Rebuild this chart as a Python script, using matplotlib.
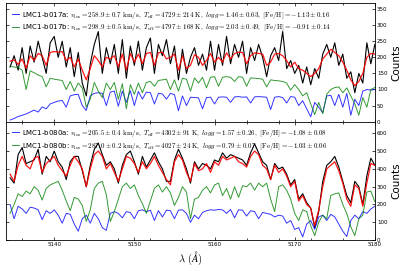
import numpy as np
import matplotlib
matplotlib.use('Agg')
import matplotlib.pyplot as plt
from matplotlib.ticker import MultipleLocator

# wavelength grid (Angstrom), 0.5 A sampling
wave = np.arange(5134.5, 5180.01, 0.5)

# ---- top panel: LMC1-b017 ----
b017_obs = [170, 205, 160, 230, 150, 235, 185, 250, 200, 150,
            245, 265, 200, 250, 170, 230, 140, 215, 120, 80,
            180, 240, 280, 150, 230, 180, 240, 150, 255, 135,
            235, 175, 250, 160, 230, 260, 150, 240, 205, 255,
            180, 235, 130, 225, 150, 200, 230, 175, 210, 160,
            250, 160, 240, 175, 265, 180, 240, 200, 250, 150,
            230, 190, 240, 200, 140, 205, 230, 190, 280, 165,
            190, 150, 175, 120, 170, 115, 165, 135, 210, 240,
            200, 245, 175, 210, 135, 155, 90, 150, 120, 245,
            180, 240]
b017_fit = [188, 192, 178, 195, 165, 205, 190, 212, 205, 175,
            215, 218, 216, 218, 190, 200, 170, 195, 160, 130,
            165, 205, 190, 170, 200, 195, 205, 170, 210, 160,
            212, 185, 210, 180, 212, 215, 175, 214, 216, 195,
            200, 210, 160, 205, 165, 175, 208, 200, 175, 190,
            212, 185, 200, 185, 214, 195, 212, 216, 215, 180,
            205, 214, 212, 210, 175, 185, 210, 212, 205, 190,
            170, 185, 165, 160, 150, 140, 150, 165, 195, 210,
            225, 215, 205, 185, 160, 130, 112, 125, 150, 200,
            212, 210]
b017a = [5, 10, 16, 20, 24, 30, 36, 30, 46, 40,
         55, 60, 64, 66, 45, 80, 84, 85, 50, 35,
         80, 88, 90, 88, 50, 92, 95, 48, 95, 60,
         96, 50, 94, 70, 92, 90, 55, 88, 86, 70,
         88, 84, 34, 80, 50, 76, 75, 74, 40, 75,
         76, 55, 76, 77, 76, 60, 77, 78, 76, 77,
         58, 77, 78, 77, 76, 38, 76, 78, 75, 58,
         78, 76, 50, 65, 40, 15, 60, 45, 28, 80,
         82, 50, 85, 45, 88, 20, 70, 50, 95, 100,
         98, 100]
b017b = [172, 170, 168, 160, 100, 158, 152, 145, 140, 108,
         135, 132, 130, 128, 100, 125, 95, 120, 105, 45,
         70, 122, 95, 75, 120, 100, 122, 70, 118, 40,
         115, 85, 120, 90, 122, 125, 110, 128, 130, 132,
         100, 130, 95, 135, 132, 95, 136, 120, 138, 105,
         138, 140, 110, 138, 140, 138, 125, 140, 138, 110,
         136, 135, 134, 132, 108, 130, 128, 127, 125, 120,
         98, 115, 100, 80, 90, 55, 22, 60, 25, 85,
         100, 106, 108, 90, 105, 80, 55, 20, 75, 45,
         100, 106]

# ---- bottom panel: LMC1-b080 ----
b080_obs = [350, 320, 480, 520, 430, 440, 450, 510, 370, 470,
            440, 500, 440, 410, 340, 440, 470, 470, 390, 300,
            420, 510, 545, 480, 420, 440, 400, 320, 420, 480,
            500, 440, 370, 470, 410, 450, 490, 440, 400, 330,
            330, 450, 510, 460, 400, 320, 440, 400, 430, 420,
            400, 450, 440, 490, 460, 480, 470, 460, 450, 420,
            490, 540, 490, 440, 420, 340, 430, 400, 410, 370,
            310, 340, 230, 260, 210, 180, 70, 160, 330, 420,
            440, 470, 410, 330, 250, 210, 330, 300, 200, 360,
            460, 420]
b080_fit = [370, 330, 420, 470, 420, 400, 460, 470, 380, 430,
            450, 470, 420, 390, 360, 420, 470, 440, 400, 300,
            400, 480, 500, 470, 400, 430, 380, 330, 400, 470,
            460, 430, 380, 440, 400, 430, 470, 420, 380, 340,
            310, 440, 480, 450, 380, 330, 430, 390, 400, 430,
            380, 440, 420, 470, 450, 460, 470, 440, 430, 410,
            470, 500, 480, 420, 400, 340, 420, 380, 400, 360,
            300, 330, 220, 250, 200, 180, 80, 170, 300, 400,
            420, 440, 390, 320, 230, 190, 310, 290, 190, 320,
            430, 420]
b080a = [200, 120, 190, 175, 150, 185, 180, 170, 115, 165,
         150, 170, 140, 95, 150, 145, 90, 50, 120, 140,
         95, 150, 120, 70, 55, 150, 160, 150, 125, 160,
         155, 120, 165, 170, 160, 168, 110, 165, 130, 168,
         165, 120, 168, 170, 150, 100, 140, 120, 155, 165,
         170, 168, 172, 170, 150, 172, 125, 170, 168, 135,
         165, 160, 120, 155, 150, 145, 130, 140, 135, 95,
         110, 60, 70, 18, 90, 110, 60, 130, 140, 110,
         145, 130, 90, 50, 20, 110, 140, 120, 160, 150,
         175, 190]
b080b = [150, 200, 260, 245, 275, 260, 300, 280, 225, 290,
         310, 320, 330, 280, 220, 165, 240, 230, 195, 105,
         170, 290, 320, 330, 255, 105, 160, 230, 300, 320,
         290, 310, 250, 205, 150, 220, 290, 310, 270, 300,
         265, 195, 240, 300, 270, 120, 230, 240, 280, 300,
         265, 310, 320, 250, 290, 230, 300, 240, 305, 300,
         320, 280, 320, 300, 320, 230, 160, 300, 310, 280,
         230, 150, 110, 170, 160, 80, 25, 100, 140, 120,
         250, 260, 265, 200, 150, 75, 25, 120, 140, 270,
         275, 215]

labels_top = [r'LMC1-b017a: $v_{\rm los} = 258.9 \pm 0.7\ {\rm km/s},\ T_{\rm eff} = 4729 \pm 214\ {\rm K},\ logg = 1.46 \pm 0.63,\ {\rm [Fe/H]} = -1.13 \pm 0.16$',
              r'LMC1-b017b: $v_{\rm los} = 298.9 \pm 0.5\ {\rm km/s},\ T_{\rm eff} = 4797 \pm 168\ {\rm K},\ logg = 2.03 \pm 0.49,\ {\rm [Fe/H]} = -0.91 \pm 0.14$']
labels_bot = [r'LMC1-b080a: $v_{\rm los} = 205.5 \pm 0.4\ {\rm km/s},\ T_{\rm eff} = 4302 \pm 91\ {\rm K},\ logg = 1.57 \pm 0.26,\ {\rm [Fe/H]} = -1.08 \pm 0.08$',
              r'LMC1-b080b: $v_{\rm los} = 287.0 \pm 0.2\ {\rm km/s},\ T_{\rm eff} = 4027 \pm 24\ {\rm K},\ logg = 0.79 \pm 0.07,\ {\rm [Fe/H]} = -1.03 \pm 0.06$']

plt.rcParams.update({'font.family': 'DejaVu Sans',
                     'mathtext.fontset': 'cm',
                     'axes.linewidth': 0.6})

fig, axes = plt.subplots(2, 1, sharex=True, figsize=(4.07, 2.71), dpi=100)
fig.subplots_adjust(left=0.015, right=0.921, bottom=0.114, top=0.988, hspace=0)

panels = [(b017_obs, b017_fit, b017a, b017b, labels_top, 368, 50),
          (b080_obs, b080_fit, b080a, b080b, labels_bot, 665, 100)]

for ax, (obs, fit, sa, sb, labs, ytop, ystep) in zip(axes, panels):
    ax.plot(wave, obs, color='k', lw=0.8)
    ax.plot(wave, fit, color='r', lw=0.9, alpha=0.9)
    la, = ax.plot(wave, sa, color='b', lw=0.7, alpha=0.8, label=labs[0])
    lb, = ax.plot(wave, sb, color='g', lw=0.7, alpha=0.8, label=labs[1])
    ax.set_ylim(0, ytop)
    ax.yaxis.set_major_locator(MultipleLocator(ystep))
    ax.yaxis.set_label_position('right')
    ax.set_ylabel('Counts', fontsize=7.5, labelpad=3)
    ax.tick_params(axis='both', which='both', direction='in', top=True, bottom=True,
                   left=True, right=True, labelleft=False, labelright=True,
                   labelsize=4, width=0.5, pad=1.5)
    ax.tick_params(which='major', length=2.5)
    ax.tick_params(which='minor', length=1.5)
    ax.legend(handles=[la, lb], loc='upper left', frameon=False, fontsize=5,
              handlelength=1.0, handletextpad=0.4, labelspacing=0.25,
              borderaxespad=0.4, borderpad=0.5)

axes[1].set_xlim(5134, 5180)
axes[1].xaxis.set_major_locator(MultipleLocator(10))
axes[1].xaxis.set_minor_locator(MultipleLocator(4))
axes[1].set_xlabel(r'$\lambda\ (\AA)$', fontsize=7.5, labelpad=2)

plt.savefig('out.png', dpi=100)
